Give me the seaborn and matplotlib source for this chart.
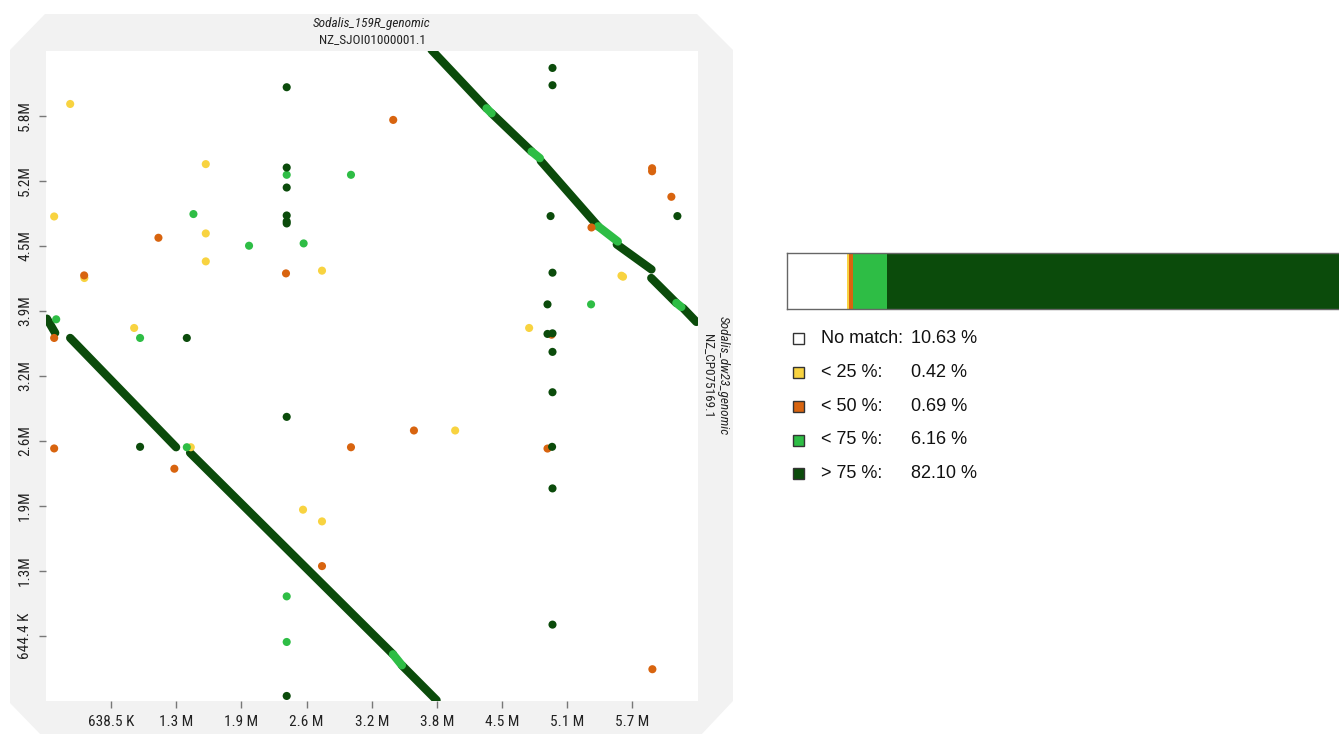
import numpy as np
import pandas as pd
import seaborn as sns
import matplotlib.pyplot as plt
from matplotlib.patches import Polygon, Rectangle

# identity classes and share of the query genome
classes = ['No match', '< 25 %', '< 50 %', '< 75 %', '> 75 %']
shares = [10.63, 0.42, 0.69, 6.16, 82.10]
colors = {'No match': '#FFFFFF', '< 25 %': '#F8D340', '< 50 %': '#D8640F',
          '< 75 %': '#2EBD45', '> 75 %': '#0B4B0B'}

# alignment blocks (Mb): x = Sodalis_159R, y = Sodalis_dw23
seg_x0 = [0.009, 0.237, 1.412, 3.401, 3.488, 3.779, 4.318, 4.367, 4.759, 4.849, 5.411, 5.594, 5.932, 6.178, 6.243]
seg_x1 = [0.090, 1.275, 3.401, 3.488, 3.828, 4.318, 4.367, 4.759, 4.840, 5.411, 5.604, 5.934, 6.177, 6.227, 6.374]
seg_y0 = [3.789, 3.598, 2.460, 0.463, 0.354, 6.452, 5.874, 5.825, 5.446, 5.353, 4.705, 4.525, 4.192, 3.945, 3.895]
seg_y1 = [3.648, 2.515, 0.463, 0.354, 0.008, 5.874, 5.825, 5.446, 5.380, 4.705, 4.554, 4.277, 3.945, 3.905, 3.757]
seg_cls = ['> 75 %', '> 75 %', '> 75 %', '< 75 %', '> 75 %', '> 75 %', '< 75 %', '> 75 %', '< 75 %',
           '> 75 %', '< 75 %', '> 75 %', '> 75 %', '< 75 %', '> 75 %']

# short scattered hits
yel_x = [0.237, 1.566, 0.080, 1.566, 1.566, 0.376, 2.705, 0.864, 1.419, 2.519, 2.705, 4.010, 5.640, 5.655, 4.735]
yel_y = [5.917, 5.321, 4.802, 4.634, 4.357, 4.192, 4.265, 3.697, 2.515, 1.896, 1.780, 2.681, 4.215, 4.205, 3.697]
ora_x = [1.102, 0.374, 2.352, 0.080, 0.080, 1.258, 2.989, 2.705, 3.606, 4.915, 5.943, 3.403, 5.940, 5.940, 6.129, 5.346, 4.955]
ora_y = [4.591, 4.218, 4.238, 3.598, 2.503, 2.302, 2.515, 1.337, 2.681, 2.502, 0.315, 5.759, 5.280, 5.250, 4.997, 4.693, 3.630]
lgr_x = [2.359, 2.989, 1.445, 1.990, 2.525, 0.100, 0.922, 1.380, 2.359, 2.359, 5.342]
lgr_y = [5.215, 5.215, 4.826, 4.512, 4.535, 3.783, 3.598, 2.515, 1.037, 0.585, 3.931]
dgr_x = [2.359, 2.359, 2.359, 2.359, 2.359, 2.359, 1.380, 0.922, 2.359, 2.359, 4.964, 4.960, 4.964, 4.964,
         4.964, 4.964, 6.188, 4.945, 4.964, 4.915, 4.915, 4.964, 4.964]
dgr_y = [6.083, 5.287, 5.089, 4.812, 4.753, 4.733, 3.598, 2.519, 2.816, 0.050, 3.060, 2.519, 2.107, 0.757,
         6.274, 6.103, 4.806, 4.806, 4.245, 3.931, 3.638, 3.644, 3.460]

x_max, y_max = 6.390, 6.442
x_ticks = [0.6385 * k for k in range(1, 10)]
x_labels = ['638.5 K', '1.3 M', '1.9 M', '2.6 M', '3.2 M', '3.8 M', '4.5 M', '5.1 M', '5.7 M']
y_ticks = [0.6444 * k for k in range(1, 10)]
y_labels = ['644.4 K', '1.3M', '1.9M', '2.6M', '3.2M', '3.9M', '4.5M', '5.2M', '5.8M']

sns.set_style('white')
narrow = ['Roboto Condensed', 'Liberation Sans', 'DejaVu Sans']
plt.rcParams['font.family'] = ['Liberation Sans', 'DejaVu Sans']

W, H = 1339, 734
fig = plt.figure(figsize=(W / 100, H / 100), dpi=100)


def fp(px, py):
    return (px / W, 1 - py / H)


# grey octagon frame
octa = [(45, 14), (697, 14), (733, 50), (733, 701), (700, 736), (42, 736), (10, 703), (10, 50)]
fig.patches.append(Polygon([fp(*p) for p in octa], closed=True, transform=fig.transFigure,
                           facecolor='#F2F2F2', edgecolor='none', zorder=-5))

ax = fig.add_axes([46 / W, 1 - 701 / H, 652 / W, 650 / H], zorder=2)
ax.set_facecolor('white')

segs = pd.DataFrame({'seg': np.repeat(np.arange(len(seg_x0)), 2),
                     'x': np.ravel(np.column_stack([seg_x0, seg_x1])),
                     'y': np.ravel(np.column_stack([seg_y0, seg_y1])),
                     'cls': np.repeat(seg_cls, 2)})
sns.lineplot(data=segs, x='x', y='y', units='seg', hue='cls', palette=colors, estimator=None,
             sort=False, lw=6, solid_capstyle='round', legend=False, ax=ax, zorder=2)

for xs, ys, c in [(yel_x, yel_y, '< 25 %'), (ora_x, ora_y, '< 50 %'),
                  (lgr_x, lgr_y, '< 75 %'), (dgr_x, dgr_y, '> 75 %')]:
    sns.scatterplot(x=xs, y=ys, color=colors[c], s=34, edgecolor='none', ax=ax, zorder=3)

ax.set_xlim(0, x_max)
ax.set_ylim(0, y_max)
ax.set_xlabel('')
ax.set_ylabel('')
for sp in ax.spines.values():
    sp.set_visible(False)
ax.set_xticks(x_ticks)
ax.set_xticklabels(x_labels, family=narrow, fontsize=11, color='#222222')
ax.set_yticks(y_ticks)
ax.set_yticklabels(y_labels, family=narrow, fontsize=11, color='#222222', rotation=90, va='center')
ax.tick_params(axis='both', direction='out', length=5, width=1, color='#777777', pad=5,
               bottom=True, left=True)

# axis titles
fig.text(*fp(372, 24), 'Sodalis_159R_genomic', ha='center', va='center', family=narrow,
         style='italic', fontsize=9.5, color='#222222')
fig.text(*fp(372, 40), 'NZ_SJOI01000001.1', ha='center', va='center', family=narrow,
         fontsize=9.5, color='#222222')
fig.text(*fp(723, 376), 'Sodalis_dw23_genomic', ha='center', va='center', family=narrow,
         style='italic', fontsize=9.5, color='#222222', rotation=-90)
fig.text(*fp(708, 376), 'NZ_CP075169.1', ha='center', va='center', family=narrow,
         fontsize=9.5, color='#222222', rotation=-90)

# stacked share bar
bax = fig.add_axes([787.3 / W, 1 - 309 / H, 559 / W, 56 / H])
left = np.concatenate([[0], np.cumsum(shares)[:-1]])
bax.barh(0, shares, left=left, height=1, color=[colors[c] for c in classes], edgecolor='none')
bax.set_xlim(0, 100)
bax.set_ylim(-0.5, 0.5)
bax.set_xticks([])
bax.set_yticks([])
for sp in bax.spines.values():
    sp.set_color('#666666')
    sp.set_linewidth(1)

# legend
rows = [338.7, 372.7, 406.7, 440, 473.3]
for c, v, ry in zip(classes, shares, rows):
    x0, y0 = fp(793, ry + 5.5)
    fig.patches.append(Rectangle((x0, y0), 11 / W, 11 / H, transform=fig.transFigure,
                                 facecolor=colors[c], edgecolor='#333333', lw=1))
    fig.text(*fp(821, ry), c + ':', ha='left', va='center', fontsize=13, color='#111111')
    fig.text(*fp(911, ry), '%.2f %%' % v, ha='left', va='center', fontsize=13, color='#111111')

fig.savefig('out.png', dpi=100)
